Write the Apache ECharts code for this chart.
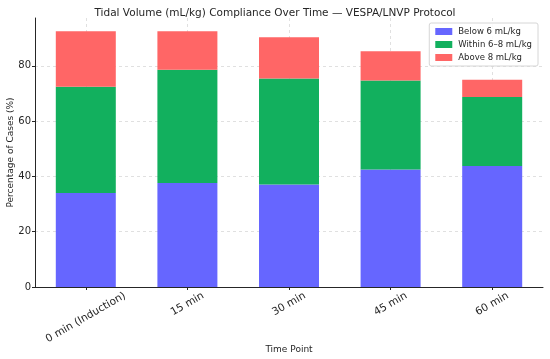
<!DOCTYPE html>
<html>
<head>
<meta charset="utf-8">
<script src="https://cdn.jsdelivr.net/npm/echarts@6/dist/echarts.min.js"></script>
<style>
html,body{margin:0;padding:0;background:#fff;}
#chart{width:550px;height:359px;}
</style>
</head>
<body>
<div id="chart"></div>
<script>
const categories = ['0 min (Induction)', '15 min', '30 min', '45 min', '60 min'];
const below6 = [34.0, 37.6, 37.1, 42.5, 43.8];
const within68 = [38.4, 41.0, 38.3, 32.2, 24.9];
const above8 = [20.1, 13.9, 14.9, 10.6, 6.3];
const yTicks = [0, 20, 40, 60, 80];
const seriesNames = ['Below 6 mL/kg', 'Within 6–8 mL/kg', 'Above 8 mL/kg'];

const FONT = 'DejaVu Sans';
const TXT = '#262626';
const tickFont = 10.5;

// measure label widths to mimic centered rotated labels
const cv = document.createElement('canvas').getContext('2d');
cv.font = tickFont + 'px "' + FONT + '"';
const rich = {};
categories.forEach((c, i) => {
  const L = cv.measureText(c).width;
  const d = L / 4;
  rich['c' + i] = {
    fontFamily: FONT, fontSize: tickFont, color: TXT,
    padding: [1.732 * d, d, 0, 0]
  };
});

const chart = echarts.init(document.getElementById('chart'), null, {renderer: 'canvas'});
chart.setOption({
  animation: false,
  backgroundColor: '#fff',
  title: {
    text: 'Tidal Volume (mL/kg) Compliance Over Time — VESPA/LNVP Protocol',
    left: 'center', top: 3,
    textStyle: {fontFamily: FONT, fontSize: 10.5, fontWeight: 'normal', color: TXT}
  },
  legend: {
    orient: 'vertical',
    right: 12, top: 23,
    itemWidth: 17, itemHeight: 7, itemGap: 4,
    padding: [4, 6, 4, 6],
    backgroundColor: 'rgba(255,255,255,0.85)',
    borderColor: '#d6d6d6', borderWidth: 1, borderRadius: 2,
    icon: 'rect',
    selectedMode: false,
    textStyle: {fontFamily: FONT, fontSize: 8.5, color: TXT, padding: [0, 0, 0, 1]},
    data: seriesNames
  },
  grid: {left: 35, right: 7, top: 18, bottom: 72, containLabel: false, outerBoundsMode: 'none'},
  xAxis: {
    type: 'category',
    data: categories,
    boundaryGap: true,
    name: 'Time Point',
    nameLocation: 'middle',
    nameGap: 58,
    nameMoveOverlap: false,
    nameTextStyle: {fontFamily: FONT, fontSize: 9, color: TXT},
    axisLine: {lineStyle: {color: '#262626', width: 1}},
    axisTick: {show: true, alignWithLabel: true, length: 3, lineStyle: {color: '#262626'}},
    axisLabel: {
      interval: 0, rotate: 30, align: 'center', verticalAlign: 'middle', margin: 8,
      fontFamily: FONT, fontSize: tickFont, color: TXT,
      formatter: (v, i) => '{c' + i + '|' + v + '}',
      rich: rich
    },
    splitLine: {show: true, interval: 0, alignWithLabel: true, lineStyle: {color: '#d9d9d9', type: [3, 3], width: 0.8}}
  },
  yAxis: {
    type: 'value',
    min: 0, max: 97.3, interval: 20,
    name: 'Percentage of Cases (%)',
    nameLocation: 'middle',
    nameGap: 20,
    nameMoveOverlap: false,
    nameTextStyle: {fontFamily: FONT, fontSize: 9, color: TXT},
    axisLine: {show: true, lineStyle: {color: '#262626', width: 1}},
    axisTick: {show: true, length: 3, customValues: yTicks, lineStyle: {color: '#262626'}},
    axisLabel: {customValues: yTicks, margin: 4, fontFamily: FONT, fontSize: 10, color: TXT},
    splitLine: {show: true, lineStyle: {color: '#d9d9d9', type: [3, 3], width: 0.8}}
  },
  series: [
    {name: seriesNames[0], type: 'bar', stack: 't', barWidth: 60, data: below6, itemStyle: {color: '#6666ff'}},
    {name: seriesNames[1], type: 'bar', stack: 't', barWidth: 60, data: within68, itemStyle: {color: '#12b05e'}},
    {name: seriesNames[2], type: 'bar', stack: 't', barWidth: 60, data: above8, itemStyle: {color: '#ff6666'}}
  ]
});
</script>
</body>
</html>
